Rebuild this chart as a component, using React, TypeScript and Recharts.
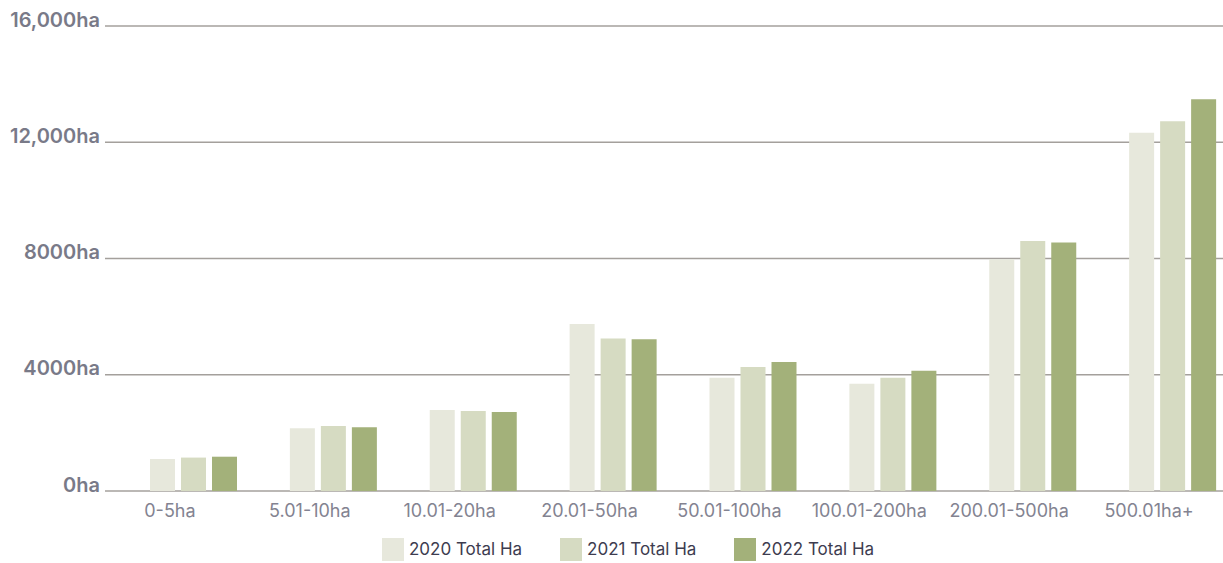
import { Bar, BarChart, CartesianGrid, Legend, XAxis, YAxis } from 'recharts';

const categories = ['0-5ha', '5.01-10ha', '10.01-20ha', '20.01-50ha', '50.01-100ha', '100.01-200ha', '200.01-500ha', '500.01ha+'];
const total2020 = [1100, 2160, 2790, 5750, 3900, 3690, 7970, 12330];
const total2021 = [1150, 2240, 2750, 5250, 4270, 3900, 8600, 12720];
const total2022 = [1180, 2190, 2720, 5220, 4440, 4140, 8550, 13480];

const yTicks = [0, 4000, 8000, 12000, 16000];
const yTickLabels = ['0ha', '4000ha', '8000ha', '12,000ha', '16,000ha'];

const seriesKeys = ['y2020', 'y2021', 'y2022'];
const seriesNames = ['2020 Total Ha', '2021 Total Ha', '2022 Total Ha'];
const seriesColors = ['#e7e8dc', '#d6dbc2', '#a3b17a'];

const data = categories.map((name, i) => ({
  name,
  y2020: total2020[i],
  y2021: total2021[i],
  y2022: total2022[i],
}));

const FONT = 'Inter, "Noto Sans", sans-serif';

function XTick({ x, y, payload }: any) {
  return (
    <text x={x - 24} y={y} dy={26} textAnchor="middle" fill="#838391" fontSize={18} fontFamily={FONT}>
      {payload.value}
    </text>
  );
}

function YTick({ x, y, payload }: any) {
  const label = yTickLabels[yTicks.indexOf(payload.value)];
  return (
    <text x={x - 5} y={y} dy={0.5} textAnchor="end" fill="#797a88" fontSize={20} fontWeight={600} fontFamily={FONT}>
      {label}
    </text>
  );
}

function LegendContent() {
  return (
    <div style={{ display: 'flex', alignItems: 'center', gap: 38, height: 32, paddingTop: 4, boxSizing: 'border-box', fontFamily: FONT }}>
      {seriesNames.map((n, i) => (
        <div key={n} style={{ display: 'flex', alignItems: 'center' }}>
          <span style={{ width: 22, height: 23, background: seriesColors[i], display: 'inline-block', marginRight: 5 }} />
          <span style={{ fontSize: 17, color: '#3d3c4f' }}>{n}</span>
        </div>
      ))}
    </div>
  );
}

export default function App() {
  return (
    <div style={{ position: 'absolute', left: 0, top: 0, width: 1223, height: 563, overflow: 'hidden', background: '#fff' }}>
      <BarChart
        width={1243}
        height={563}
        data={data}
        margin={{ top: 26, right: 0, left: 0, bottom: 0 }}
        barSize={25}
        barGap={6}
      >
        <CartesianGrid vertical={false} stroke="#a4a09c" strokeWidth={1.3} />
        <XAxis
          dataKey="name"
          height={40}
          padding={{ left: 19, right: 0 }}
          axisLine={false}
          tickLine={false}
          tickSize={0}
          tickMargin={0}
          interval={0}
          tick={<XTick />}
        />
        <YAxis
          width={105}
          domain={[0, 16000]}
          ticks={yTicks}
          interval={0}
          axisLine={false}
          tickLine={false}
          tickSize={0}
          tickMargin={0}
          tick={<YTick />}
        />
        <Legend
          content={<LegendContent />}
          verticalAlign="bottom"
          wrapperStyle={{ left: 382, bottom: 0, width: 'auto', height: 32 }}
        />
        {seriesKeys.map((k, i) => (
          <Bar key={k} dataKey={k} name={seriesNames[i]} fill={seriesColors[i]} isAnimationActive={false} />
        ))}
      </BarChart>
    </div>
  );
}
